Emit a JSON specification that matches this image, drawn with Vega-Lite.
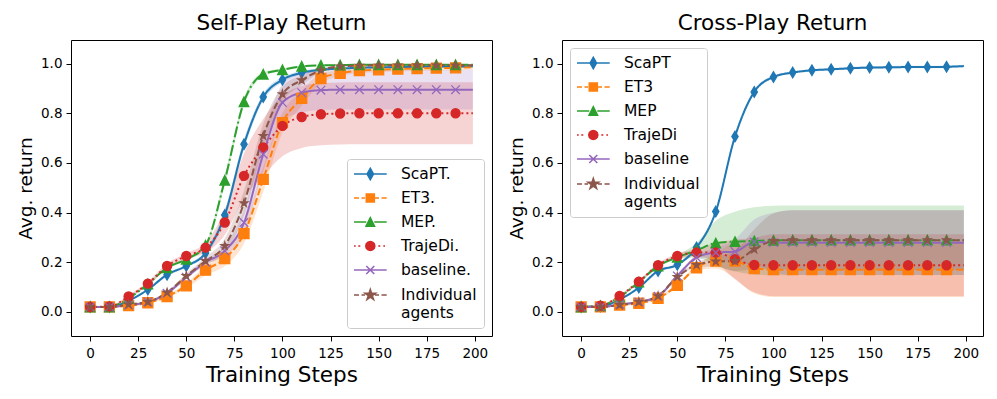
{
  "$schema": "https://vega.github.io/schema/vega-lite/v6.json",
  "background": "white",
  "padding": {"left": 16, "top": 12, "right": 5, "bottom": 5},
  "bounds": "flush",
  "spacing": 70,
  "config": {
    "font": "DejaVu Sans",
    "view": {"stroke": "#000", "strokeWidth": 1},
    "axis": {"domain": false, "grid": false, "ticks": true, "tickColor": "#000", "tickSize": 5, "tickWidth": 1, "labelFontSize": 13.5, "labelColor": "#000", "titleColor": "#000", "titleFontWeight": "normal", "labelFont": "DejaVu Sans", "titleFont": "DejaVu Sans"},
    "axisX": {"titleFontSize": 21.5, "labelPadding": 5, "titlePadding": 5},
    "axisY": {"titleFontSize": 18.5, "labelPadding": 4, "titlePadding": 5},
    "title": {"fontSize": 21.5, "fontWeight": "normal", "font": "DejaVu Sans", "color": "#000", "offset": 6, "anchor": "middle"},
    "legend": {"labelFont": "DejaVu Sans", "labelFontSize": 15.5, "labelColor": "#000", "titleFontSize": 1}
  },
  "resolve": {"scale": {"shape": "independent", "color": "independent", "fill": "independent", "stroke": "independent", "strokeDash": "independent", "size": "independent"}, "legend": {"shape": "independent", "fill": "independent", "stroke": "independent"}},
  "data": {"values": [
    {"panel":"Self","method":"ScaPT","step":0,"value":0.02,"lo":0.017,"hi":0.023},
    {"panel":"Self","method":"ScaPT","step":10,"value":0.02,"lo":0.017,"hi":0.023},
    {"panel":"Self","method":"ScaPT","step":20,"value":0.045,"lo":0.041,"hi":0.049},
    {"panel":"Self","method":"ScaPT","step":30,"value":0.09,"lo":0.085,"hi":0.095},
    {"panel":"Self","method":"ScaPT","step":40,"value":0.15,"lo":0.144,"hi":0.156},
    {"panel":"Self","method":"ScaPT","step":50,"value":0.185,"lo":0.179,"hi":0.191},
    {"panel":"Self","method":"ScaPT","step":60,"value":0.237,"lo":0.227,"hi":0.247},
    {"panel":"Self","method":"ScaPT","step":70,"value":0.39,"lo":0.37,"hi":0.41},
    {"panel":"Self","method":"ScaPT","step":80,"value":0.675,"lo":0.655,"hi":0.695},
    {"panel":"Self","method":"ScaPT","step":90,"value":0.865,"lo":0.85,"hi":0.88},
    {"panel":"Self","method":"ScaPT","step":100,"value":0.935,"lo":0.925,"hi":0.945},
    {"panel":"Self","method":"ScaPT","step":110,"value":0.963,"lo":0.955,"hi":0.971},
    {"panel":"Self","method":"ScaPT","step":120,"value":0.975,"lo":0.969,"hi":0.981},
    {"panel":"Self","method":"ScaPT","step":130,"value":0.98,"lo":0.975,"hi":0.985},
    {"panel":"Self","method":"ScaPT","step":140,"value":0.983,"lo":0.978,"hi":0.988},
    {"panel":"Self","method":"ScaPT","step":150,"value":0.985,"lo":0.98,"hi":0.99},
    {"panel":"Self","method":"ScaPT","step":160,"value":0.986,"lo":0.981,"hi":0.991},
    {"panel":"Self","method":"ScaPT","step":170,"value":0.987,"lo":0.982,"hi":0.992},
    {"panel":"Self","method":"ScaPT","step":180,"value":0.988,"lo":0.983,"hi":0.993},
    {"panel":"Self","method":"ScaPT","step":190,"value":0.988,"lo":0.983,"hi":0.993},
    {"panel":"Self","method":"ScaPT","step":199,"value":0.989,"lo":0.984,"hi":0.994},
    {"panel":"Self","method":"ET3","step":0,"value":0.02,"lo":0.017,"hi":0.023},
    {"panel":"Self","method":"ET3","step":10,"value":0.02,"lo":0.017,"hi":0.023},
    {"panel":"Self","method":"ET3","step":20,"value":0.025,"lo":0.021,"hi":0.029},
    {"panel":"Self","method":"ET3","step":30,"value":0.037,"lo":0.032,"hi":0.042},
    {"panel":"Self","method":"ET3","step":40,"value":0.062,"lo":0.056,"hi":0.068},
    {"panel":"Self","method":"ET3","step":50,"value":0.105,"lo":0.095,"hi":0.115},
    {"panel":"Self","method":"ET3","step":60,"value":0.168,"lo":0.148,"hi":0.188},
    {"panel":"Self","method":"ET3","step":70,"value":0.215,"lo":0.185,"hi":0.245},
    {"panel":"Self","method":"ET3","step":80,"value":0.315,"lo":0.275,"hi":0.355},
    {"panel":"Self","method":"ET3","step":90,"value":0.534,"lo":0.484,"hi":0.584},
    {"panel":"Self","method":"ET3","step":100,"value":0.762,"lo":0.722,"hi":0.802},
    {"panel":"Self","method":"ET3","step":110,"value":0.86,"lo":0.83,"hi":0.89},
    {"panel":"Self","method":"ET3","step":120,"value":0.94,"lo":0.92,"hi":0.96},
    {"panel":"Self","method":"ET3","step":130,"value":0.961,"lo":0.949,"hi":0.973},
    {"panel":"Self","method":"ET3","step":140,"value":0.972,"lo":0.962,"hi":0.982},
    {"panel":"Self","method":"ET3","step":150,"value":0.975,"lo":0.965,"hi":0.985},
    {"panel":"Self","method":"ET3","step":160,"value":0.978,"lo":0.968,"hi":0.988},
    {"panel":"Self","method":"ET3","step":170,"value":0.98,"lo":0.97,"hi":0.99},
    {"panel":"Self","method":"ET3","step":180,"value":0.982,"lo":0.972,"hi":0.992},
    {"panel":"Self","method":"ET3","step":190,"value":0.983,"lo":0.973,"hi":0.993},
    {"panel":"Self","method":"ET3","step":199,"value":0.985,"lo":0.975,"hi":0.995},
    {"panel":"Self","method":"MEP","step":0,"value":0.02,"lo":0.017,"hi":0.023},
    {"panel":"Self","method":"MEP","step":10,"value":0.02,"lo":0.017,"hi":0.023},
    {"panel":"Self","method":"MEP","step":20,"value":0.055,"lo":0.051,"hi":0.059},
    {"panel":"Self","method":"MEP","step":30,"value":0.112,"lo":0.107,"hi":0.117},
    {"panel":"Self","method":"MEP","step":40,"value":0.178,"lo":0.172,"hi":0.184},
    {"panel":"Self","method":"MEP","step":50,"value":0.212,"lo":0.206,"hi":0.218},
    {"panel":"Self","method":"MEP","step":60,"value":0.268,"lo":0.258,"hi":0.278},
    {"panel":"Self","method":"MEP","step":70,"value":0.53,"lo":0.51,"hi":0.55},
    {"panel":"Self","method":"MEP","step":80,"value":0.846,"lo":0.831,"hi":0.861},
    {"panel":"Self","method":"MEP","step":90,"value":0.957,"lo":0.949,"hi":0.965},
    {"panel":"Self","method":"MEP","step":100,"value":0.975,"lo":0.97,"hi":0.98},
    {"panel":"Self","method":"MEP","step":110,"value":0.989,"lo":0.985,"hi":0.993},
    {"panel":"Self","method":"MEP","step":120,"value":0.993,"lo":0.99,"hi":0.996},
    {"panel":"Self","method":"MEP","step":130,"value":0.994,"lo":0.991,"hi":0.997},
    {"panel":"Self","method":"MEP","step":140,"value":0.995,"lo":0.992,"hi":0.998},
    {"panel":"Self","method":"MEP","step":150,"value":0.995,"lo":0.992,"hi":0.998},
    {"panel":"Self","method":"MEP","step":160,"value":0.995,"lo":0.992,"hi":0.998},
    {"panel":"Self","method":"MEP","step":170,"value":0.995,"lo":0.992,"hi":0.998},
    {"panel":"Self","method":"MEP","step":180,"value":0.995,"lo":0.992,"hi":0.998},
    {"panel":"Self","method":"MEP","step":190,"value":0.995,"lo":0.992,"hi":0.998},
    {"panel":"Self","method":"MEP","step":199,"value":0.995,"lo":0.992,"hi":0.998},
    {"panel":"Self","method":"TrajeDi","step":0,"value":0.02,"lo":0.017,"hi":0.023},
    {"panel":"Self","method":"TrajeDi","step":10,"value":0.022,"lo":0.019,"hi":0.025},
    {"panel":"Self","method":"TrajeDi","step":20,"value":0.062,"lo":0.057,"hi":0.067},
    {"panel":"Self","method":"TrajeDi","step":30,"value":0.114,"lo":0.106,"hi":0.122},
    {"panel":"Self","method":"TrajeDi","step":40,"value":0.185,"lo":0.175,"hi":0.195},
    {"panel":"Self","method":"TrajeDi","step":50,"value":0.225,"lo":0.213,"hi":0.237},
    {"panel":"Self","method":"TrajeDi","step":60,"value":0.259,"lo":0.239,"hi":0.279},
    {"panel":"Self","method":"TrajeDi","step":70,"value":0.36,"lo":0.31,"hi":0.41},
    {"panel":"Self","method":"TrajeDi","step":80,"value":0.548,"lo":0.458,"hi":0.638},
    {"panel":"Self","method":"TrajeDi","step":90,"value":0.662,"lo":0.547,"hi":0.777},
    {"panel":"Self","method":"TrajeDi","step":100,"value":0.749,"lo":0.627,"hi":0.871},
    {"panel":"Self","method":"TrajeDi","step":110,"value":0.785,"lo":0.66,"hi":0.91},
    {"panel":"Self","method":"TrajeDi","step":120,"value":0.796,"lo":0.671,"hi":0.921},
    {"panel":"Self","method":"TrajeDi","step":130,"value":0.799,"lo":0.674,"hi":0.924},
    {"panel":"Self","method":"TrajeDi","step":140,"value":0.8,"lo":0.675,"hi":0.925},
    {"panel":"Self","method":"TrajeDi","step":150,"value":0.8,"lo":0.675,"hi":0.925},
    {"panel":"Self","method":"TrajeDi","step":160,"value":0.8,"lo":0.675,"hi":0.925},
    {"panel":"Self","method":"TrajeDi","step":170,"value":0.8,"lo":0.675,"hi":0.925},
    {"panel":"Self","method":"TrajeDi","step":180,"value":0.8,"lo":0.675,"hi":0.925},
    {"panel":"Self","method":"TrajeDi","step":190,"value":0.8,"lo":0.675,"hi":0.925},
    {"panel":"Self","method":"TrajeDi","step":199,"value":0.8,"lo":0.675,"hi":0.925},
    {"panel":"Self","method":"baseline","step":0,"value":0.02,"lo":0.017,"hi":0.023},
    {"panel":"Self","method":"baseline","step":10,"value":0.02,"lo":0.017,"hi":0.023},
    {"panel":"Self","method":"baseline","step":20,"value":0.028,"lo":0.024,"hi":0.032},
    {"panel":"Self","method":"baseline","step":30,"value":0.04,"lo":0.035,"hi":0.045},
    {"panel":"Self","method":"baseline","step":40,"value":0.075,"lo":0.069,"hi":0.081},
    {"panel":"Self","method":"baseline","step":50,"value":0.14,"lo":0.132,"hi":0.148},
    {"panel":"Self","method":"baseline","step":60,"value":0.2,"lo":0.19,"hi":0.21},
    {"panel":"Self","method":"baseline","step":70,"value":0.246,"lo":0.226,"hi":0.266},
    {"panel":"Self","method":"baseline","step":80,"value":0.36,"lo":0.31,"hi":0.41},
    {"panel":"Self","method":"baseline","step":90,"value":0.635,"lo":0.565,"hi":0.705},
    {"panel":"Self","method":"baseline","step":100,"value":0.843,"lo":0.768,"hi":0.918},
    {"panel":"Self","method":"baseline","step":110,"value":0.883,"lo":0.803,"hi":0.963},
    {"panel":"Self","method":"baseline","step":120,"value":0.893,"lo":0.813,"hi":0.973},
    {"panel":"Self","method":"baseline","step":130,"value":0.895,"lo":0.815,"hi":0.975},
    {"panel":"Self","method":"baseline","step":140,"value":0.895,"lo":0.815,"hi":0.975},
    {"panel":"Self","method":"baseline","step":150,"value":0.895,"lo":0.815,"hi":0.975},
    {"panel":"Self","method":"baseline","step":160,"value":0.895,"lo":0.815,"hi":0.975},
    {"panel":"Self","method":"baseline","step":170,"value":0.895,"lo":0.815,"hi":0.975},
    {"panel":"Self","method":"baseline","step":180,"value":0.895,"lo":0.815,"hi":0.975},
    {"panel":"Self","method":"baseline","step":190,"value":0.895,"lo":0.815,"hi":0.975},
    {"panel":"Self","method":"baseline","step":199,"value":0.895,"lo":0.815,"hi":0.975},
    {"panel":"Self","method":"Individual agents","step":0,"value":0.02,"lo":0.017,"hi":0.023},
    {"panel":"Self","method":"Individual agents","step":10,"value":0.02,"lo":0.017,"hi":0.023},
    {"panel":"Self","method":"Individual agents","step":20,"value":0.03,"lo":0.026,"hi":0.034},
    {"panel":"Self","method":"Individual agents","step":30,"value":0.04,"lo":0.035,"hi":0.045},
    {"panel":"Self","method":"Individual agents","step":40,"value":0.078,"lo":0.072,"hi":0.084},
    {"panel":"Self","method":"Individual agents","step":50,"value":0.145,"lo":0.135,"hi":0.155},
    {"panel":"Self","method":"Individual agents","step":60,"value":0.205,"lo":0.19,"hi":0.22},
    {"panel":"Self","method":"Individual agents","step":70,"value":0.266,"lo":0.236,"hi":0.296},
    {"panel":"Self","method":"Individual agents","step":80,"value":0.438,"lo":0.388,"hi":0.488},
    {"panel":"Self","method":"Individual agents","step":90,"value":0.709,"lo":0.659,"hi":0.759},
    {"panel":"Self","method":"Individual agents","step":100,"value":0.877,"lo":0.847,"hi":0.907},
    {"panel":"Self","method":"Individual agents","step":110,"value":0.933,"lo":0.913,"hi":0.953},
    {"panel":"Self","method":"Individual agents","step":120,"value":0.973,"lo":0.965,"hi":0.981},
    {"panel":"Self","method":"Individual agents","step":130,"value":0.989,"lo":0.984,"hi":0.994},
    {"panel":"Self","method":"Individual agents","step":140,"value":0.992,"lo":0.987,"hi":0.997},
    {"panel":"Self","method":"Individual agents","step":150,"value":0.993,"lo":0.988,"hi":0.998},
    {"panel":"Self","method":"Individual agents","step":160,"value":0.993,"lo":0.988,"hi":0.998},
    {"panel":"Self","method":"Individual agents","step":170,"value":0.993,"lo":0.988,"hi":0.998},
    {"panel":"Self","method":"Individual agents","step":180,"value":0.993,"lo":0.988,"hi":0.998},
    {"panel":"Self","method":"Individual agents","step":190,"value":0.993,"lo":0.988,"hi":0.998},
    {"panel":"Self","method":"Individual agents","step":199,"value":0.993,"lo":0.988,"hi":0.998},
    {"panel":"Cross","method":"ScaPT","step":0,"value":0.02,"lo":0.017,"hi":0.023},
    {"panel":"Cross","method":"ScaPT","step":10,"value":0.022,"lo":0.019,"hi":0.025},
    {"panel":"Cross","method":"ScaPT","step":20,"value":0.05,"lo":0.046,"hi":0.054},
    {"panel":"Cross","method":"ScaPT","step":30,"value":0.098,"lo":0.093,"hi":0.103},
    {"panel":"Cross","method":"ScaPT","step":40,"value":0.165,"lo":0.159,"hi":0.171},
    {"panel":"Cross","method":"ScaPT","step":50,"value":0.19,"lo":0.184,"hi":0.196},
    {"panel":"Cross","method":"ScaPT","step":60,"value":0.259,"lo":0.251,"hi":0.267},
    {"panel":"Cross","method":"ScaPT","step":70,"value":0.404,"lo":0.394,"hi":0.414},
    {"panel":"Cross","method":"ScaPT","step":80,"value":0.706,"lo":0.696,"hi":0.716},
    {"panel":"Cross","method":"ScaPT","step":90,"value":0.886,"lo":0.878,"hi":0.894},
    {"panel":"Cross","method":"ScaPT","step":100,"value":0.946,"lo":0.94,"hi":0.952},
    {"panel":"Cross","method":"ScaPT","step":110,"value":0.964,"lo":0.959,"hi":0.969},
    {"panel":"Cross","method":"ScaPT","step":120,"value":0.973,"lo":0.968,"hi":0.978},
    {"panel":"Cross","method":"ScaPT","step":130,"value":0.977,"lo":0.972,"hi":0.982},
    {"panel":"Cross","method":"ScaPT","step":140,"value":0.981,"lo":0.976,"hi":0.986},
    {"panel":"Cross","method":"ScaPT","step":150,"value":0.984,"lo":0.979,"hi":0.989},
    {"panel":"Cross","method":"ScaPT","step":160,"value":0.985,"lo":0.98,"hi":0.99},
    {"panel":"Cross","method":"ScaPT","step":170,"value":0.986,"lo":0.981,"hi":0.991},
    {"panel":"Cross","method":"ScaPT","step":180,"value":0.986,"lo":0.981,"hi":0.991},
    {"panel":"Cross","method":"ScaPT","step":190,"value":0.987,"lo":0.982,"hi":0.992},
    {"panel":"Cross","method":"ScaPT","step":199,"value":0.99,"lo":0.985,"hi":0.995},
    {"panel":"Cross","method":"ET3","step":0,"value":0.02,"lo":0.017,"hi":0.023},
    {"panel":"Cross","method":"ET3","step":10,"value":0.02,"lo":0.017,"hi":0.023},
    {"panel":"Cross","method":"ET3","step":20,"value":0.028,"lo":0.024,"hi":0.032},
    {"panel":"Cross","method":"ET3","step":30,"value":0.035,"lo":0.03,"hi":0.04},
    {"panel":"Cross","method":"ET3","step":40,"value":0.055,"lo":0.049,"hi":0.061},
    {"panel":"Cross","method":"ET3","step":50,"value":0.107,"lo":0.099,"hi":0.115},
    {"panel":"Cross","method":"ET3","step":60,"value":0.178,"lo":0.168,"hi":0.188},
    {"panel":"Cross","method":"ET3","step":70,"value":0.205,"lo":0.175,"hi":0.235},
    {"panel":"Cross","method":"ET3","step":80,"value":0.205,"lo":0.135,"hi":0.275},
    {"panel":"Cross","method":"ET3","step":90,"value":0.175,"lo":0.075,"hi":0.275},
    {"panel":"Cross","method":"ET3","step":100,"value":0.17,"lo":0.06,"hi":0.28},
    {"panel":"Cross","method":"ET3","step":110,"value":0.17,"lo":0.06,"hi":0.28},
    {"panel":"Cross","method":"ET3","step":120,"value":0.17,"lo":0.06,"hi":0.28},
    {"panel":"Cross","method":"ET3","step":130,"value":0.17,"lo":0.06,"hi":0.28},
    {"panel":"Cross","method":"ET3","step":140,"value":0.17,"lo":0.06,"hi":0.28},
    {"panel":"Cross","method":"ET3","step":150,"value":0.17,"lo":0.06,"hi":0.28},
    {"panel":"Cross","method":"ET3","step":160,"value":0.17,"lo":0.06,"hi":0.28},
    {"panel":"Cross","method":"ET3","step":170,"value":0.17,"lo":0.06,"hi":0.28},
    {"panel":"Cross","method":"ET3","step":180,"value":0.17,"lo":0.06,"hi":0.28},
    {"panel":"Cross","method":"ET3","step":190,"value":0.17,"lo":0.06,"hi":0.28},
    {"panel":"Cross","method":"ET3","step":199,"value":0.17,"lo":0.06,"hi":0.28},
    {"panel":"Cross","method":"MEP","step":0,"value":0.02,"lo":0.017,"hi":0.023},
    {"panel":"Cross","method":"MEP","step":10,"value":0.025,"lo":0.022,"hi":0.028},
    {"panel":"Cross","method":"MEP","step":20,"value":0.06,"lo":0.056,"hi":0.064},
    {"panel":"Cross","method":"MEP","step":30,"value":0.12,"lo":0.115,"hi":0.125},
    {"panel":"Cross","method":"MEP","step":40,"value":0.185,"lo":0.179,"hi":0.191},
    {"panel":"Cross","method":"MEP","step":50,"value":0.22,"lo":0.21,"hi":0.23},
    {"panel":"Cross","method":"MEP","step":60,"value":0.248,"lo":0.218,"hi":0.278},
    {"panel":"Cross","method":"MEP","step":70,"value":0.277,"lo":0.187,"hi":0.367},
    {"panel":"Cross","method":"MEP","step":80,"value":0.283,"lo":0.163,"hi":0.403},
    {"panel":"Cross","method":"MEP","step":90,"value":0.286,"lo":0.151,"hi":0.421},
    {"panel":"Cross","method":"MEP","step":100,"value":0.288,"lo":0.148,"hi":0.428},
    {"panel":"Cross","method":"MEP","step":110,"value":0.289,"lo":0.149,"hi":0.429},
    {"panel":"Cross","method":"MEP","step":120,"value":0.289,"lo":0.149,"hi":0.429},
    {"panel":"Cross","method":"MEP","step":130,"value":0.289,"lo":0.149,"hi":0.429},
    {"panel":"Cross","method":"MEP","step":140,"value":0.289,"lo":0.149,"hi":0.429},
    {"panel":"Cross","method":"MEP","step":150,"value":0.289,"lo":0.149,"hi":0.429},
    {"panel":"Cross","method":"MEP","step":160,"value":0.289,"lo":0.149,"hi":0.429},
    {"panel":"Cross","method":"MEP","step":170,"value":0.289,"lo":0.149,"hi":0.429},
    {"panel":"Cross","method":"MEP","step":180,"value":0.289,"lo":0.149,"hi":0.429},
    {"panel":"Cross","method":"MEP","step":190,"value":0.289,"lo":0.149,"hi":0.429},
    {"panel":"Cross","method":"MEP","step":199,"value":0.289,"lo":0.149,"hi":0.429},
    {"panel":"Cross","method":"TrajeDi","step":0,"value":0.02,"lo":0.017,"hi":0.023},
    {"panel":"Cross","method":"TrajeDi","step":10,"value":0.025,"lo":0.022,"hi":0.028},
    {"panel":"Cross","method":"TrajeDi","step":20,"value":0.064,"lo":0.059,"hi":0.069},
    {"panel":"Cross","method":"TrajeDi","step":30,"value":0.122,"lo":0.116,"hi":0.128},
    {"panel":"Cross","method":"TrajeDi","step":40,"value":0.188,"lo":0.18,"hi":0.196},
    {"panel":"Cross","method":"TrajeDi","step":50,"value":0.225,"lo":0.215,"hi":0.235},
    {"panel":"Cross","method":"TrajeDi","step":60,"value":0.239,"lo":0.224,"hi":0.254},
    {"panel":"Cross","method":"TrajeDi","step":70,"value":0.239,"lo":0.199,"hi":0.279},
    {"panel":"Cross","method":"TrajeDi","step":80,"value":0.212,"lo":0.132,"hi":0.292},
    {"panel":"Cross","method":"TrajeDi","step":90,"value":0.189,"lo":0.079,"hi":0.299},
    {"panel":"Cross","method":"TrajeDi","step":100,"value":0.188,"lo":0.063,"hi":0.313},
    {"panel":"Cross","method":"TrajeDi","step":110,"value":0.188,"lo":0.063,"hi":0.313},
    {"panel":"Cross","method":"TrajeDi","step":120,"value":0.188,"lo":0.063,"hi":0.313},
    {"panel":"Cross","method":"TrajeDi","step":130,"value":0.188,"lo":0.063,"hi":0.313},
    {"panel":"Cross","method":"TrajeDi","step":140,"value":0.188,"lo":0.063,"hi":0.313},
    {"panel":"Cross","method":"TrajeDi","step":150,"value":0.188,"lo":0.063,"hi":0.313},
    {"panel":"Cross","method":"TrajeDi","step":160,"value":0.188,"lo":0.063,"hi":0.313},
    {"panel":"Cross","method":"TrajeDi","step":170,"value":0.188,"lo":0.063,"hi":0.313},
    {"panel":"Cross","method":"TrajeDi","step":180,"value":0.188,"lo":0.063,"hi":0.313},
    {"panel":"Cross","method":"TrajeDi","step":190,"value":0.188,"lo":0.063,"hi":0.313},
    {"panel":"Cross","method":"TrajeDi","step":199,"value":0.188,"lo":0.063,"hi":0.313},
    {"panel":"Cross","method":"baseline","step":0,"value":0.02,"lo":0.017,"hi":0.023},
    {"panel":"Cross","method":"baseline","step":10,"value":0.02,"lo":0.017,"hi":0.023},
    {"panel":"Cross","method":"baseline","step":20,"value":0.03,"lo":0.026,"hi":0.034},
    {"panel":"Cross","method":"baseline","step":30,"value":0.04,"lo":0.035,"hi":0.045},
    {"panel":"Cross","method":"baseline","step":40,"value":0.063,"lo":0.057,"hi":0.069},
    {"panel":"Cross","method":"baseline","step":50,"value":0.145,"lo":0.137,"hi":0.153},
    {"panel":"Cross","method":"baseline","step":60,"value":0.219,"lo":0.209,"hi":0.229},
    {"panel":"Cross","method":"baseline","step":70,"value":0.239,"lo":0.219,"hi":0.259},
    {"panel":"Cross","method":"baseline","step":80,"value":0.243,"lo":0.193,"hi":0.293},
    {"panel":"Cross","method":"baseline","step":90,"value":0.282,"lo":0.192,"hi":0.372},
    {"panel":"Cross","method":"baseline","step":100,"value":0.279,"lo":0.159,"hi":0.399},
    {"panel":"Cross","method":"baseline","step":110,"value":0.279,"lo":0.149,"hi":0.409},
    {"panel":"Cross","method":"baseline","step":120,"value":0.279,"lo":0.149,"hi":0.409},
    {"panel":"Cross","method":"baseline","step":130,"value":0.279,"lo":0.149,"hi":0.409},
    {"panel":"Cross","method":"baseline","step":140,"value":0.279,"lo":0.149,"hi":0.409},
    {"panel":"Cross","method":"baseline","step":150,"value":0.279,"lo":0.149,"hi":0.409},
    {"panel":"Cross","method":"baseline","step":160,"value":0.279,"lo":0.149,"hi":0.409},
    {"panel":"Cross","method":"baseline","step":170,"value":0.279,"lo":0.149,"hi":0.409},
    {"panel":"Cross","method":"baseline","step":180,"value":0.279,"lo":0.149,"hi":0.409},
    {"panel":"Cross","method":"baseline","step":190,"value":0.279,"lo":0.149,"hi":0.409},
    {"panel":"Cross","method":"baseline","step":199,"value":0.279,"lo":0.149,"hi":0.409},
    {"panel":"Cross","method":"Individual agents","step":0,"value":0.02,"lo":0.017,"hi":0.023},
    {"panel":"Cross","method":"Individual agents","step":10,"value":0.02,"lo":0.017,"hi":0.023},
    {"panel":"Cross","method":"Individual agents","step":20,"value":0.028,"lo":0.024,"hi":0.032},
    {"panel":"Cross","method":"Individual agents","step":30,"value":0.04,"lo":0.035,"hi":0.045},
    {"panel":"Cross","method":"Individual agents","step":40,"value":0.064,"lo":0.058,"hi":0.07},
    {"panel":"Cross","method":"Individual agents","step":50,"value":0.141,"lo":0.133,"hi":0.149},
    {"panel":"Cross","method":"Individual agents","step":60,"value":0.189,"lo":0.179,"hi":0.199},
    {"panel":"Cross","method":"Individual agents","step":70,"value":0.203,"lo":0.183,"hi":0.223},
    {"panel":"Cross","method":"Individual agents","step":80,"value":0.205,"lo":0.165,"hi":0.245},
    {"panel":"Cross","method":"Individual agents","step":90,"value":0.252,"lo":0.172,"hi":0.332},
    {"panel":"Cross","method":"Individual agents","step":100,"value":0.286,"lo":0.176,"hi":0.396},
    {"panel":"Cross","method":"Individual agents","step":110,"value":0.289,"lo":0.169,"hi":0.409},
    {"panel":"Cross","method":"Individual agents","step":120,"value":0.289,"lo":0.169,"hi":0.409},
    {"panel":"Cross","method":"Individual agents","step":130,"value":0.289,"lo":0.169,"hi":0.409},
    {"panel":"Cross","method":"Individual agents","step":140,"value":0.289,"lo":0.169,"hi":0.409},
    {"panel":"Cross","method":"Individual agents","step":150,"value":0.289,"lo":0.169,"hi":0.409},
    {"panel":"Cross","method":"Individual agents","step":160,"value":0.289,"lo":0.169,"hi":0.409},
    {"panel":"Cross","method":"Individual agents","step":170,"value":0.289,"lo":0.169,"hi":0.409},
    {"panel":"Cross","method":"Individual agents","step":180,"value":0.289,"lo":0.169,"hi":0.409},
    {"panel":"Cross","method":"Individual agents","step":190,"value":0.289,"lo":0.169,"hi":0.409},
    {"panel":"Cross","method":"Individual agents","step":199,"value":0.289,"lo":0.169,"hi":0.409}
  ]},
  "hconcat": [
    {
      "width": 421, "height": 296,
      "title": {"text": "Self-Play Return"},
      "transform": [{"filter": "datum.panel == 'Self'"}],
      "encoding": {
        "x": {"field": "step", "type": "quantitative", "scale": {"domain": [-9.95, 208.95], "nice": false, "zero": false}, "axis": {"values": [0,25,50,75,100,125,150,175,200], "format": "d", "title": "Training Steps"}}
      },
      "layer": [
        {
          "mark": {"type": "area", "opacity": 0.2, "interpolate": "monotone"},
          "encoding": {
            "y": {"field": "lo", "type": "quantitative", "scale": {"domain": [-0.097, 1.095], "nice": false, "zero": false}, "axis": {"values": [0,0.2,0.4,0.6,0.8,1.0], "format": ".1f", "title": "Avg. return"}},
            "y2": {"field": "hi"},
            "color": {"field": "method", "type": "nominal", "scale": {"domain": ["ScaPT","ET3","MEP","TrajeDi","baseline","Individual agents"], "range": ["#1f77b4","#ff7f0e","#2ca02c","#d62728","#9467bd","#8c564b"]}, "legend": null}
          }
        },
        {
          "mark": {"type": "line", "strokeWidth": 2, "interpolate": "monotone"},
          "encoding": {
            "y": {"field": "value", "type": "quantitative", "scale": {"domain": [-0.097, 1.095], "nice": false, "zero": false}, "axis": {"values": [0,0.2,0.4,0.6,0.8,1.0], "format": ".1f", "title": "Avg. return"}},
            "color": {"field": "method", "type": "nominal", "scale": {"domain": ["ScaPT","ET3","MEP","TrajeDi","baseline","Individual agents"], "range": ["#1f77b4","#ff7f0e","#2ca02c","#d62728","#9467bd","#8c564b"]}, "legend": null},
            "strokeDash": {"field": "method", "type": "nominal", "scale": {"domain": ["ScaPT","ET3","MEP","TrajeDi","baseline","Individual agents"], "range": [[1,0],[7,3],[11,3,2,3],[2,3],[1,0],[7,3]]}, "legend": null}
          }
        },
        {
          "transform": [{"filter": "datum.step % 10 == 0"}],
          "mark": {"type": "point", "filled": true, "opacity": 1, "strokeWidth": 1.3},
          "encoding": {
            "y": {"field": "value", "type": "quantitative", "scale": {"domain": [-0.097, 1.095], "nice": false, "zero": false}, "axis": {"values": [0,0.2,0.4,0.6,0.8,1.0], "format": ".1f", "title": "Avg. return"}},
            "color": {"field": "method", "type": "nominal", "scale": {"domain": ["ScaPT","ET3","MEP","TrajeDi","baseline","Individual agents"], "range": ["#1f77b4","#ff7f0e","#2ca02c","#d62728","#9467bd","#8c564b"]}, "legend": null},
            "stroke": {"field": "method", "type": "nominal", "scale": {"domain": ["ScaPT","ET3","MEP","TrajeDi","baseline","Individual agents"], "range": ["#1f77b4","#ff7f0e","#2ca02c","#d62728","#9467bd","#8c564b"]}, "legend": null},
            "shape": {"field": "method", "type": "nominal", "scale": {"domain": ["ScaPT","ET3","MEP","TrajeDi","baseline","Individual agents"], "range": ["M0,-1L0.6,0L0,1L-0.6,0Z","square","M0,-1L1,1L-1,1Z","circle","M-1,-1L1,1M-1,1L1,-1","M0,-1L0.2245,-0.309L0.951,-0.309L0.363,0.118L0.588,0.809L0,0.382L-0.588,0.809L-0.363,0.118L-0.951,-0.309L-0.2245,-0.309Z"]}, "legend": null},
            "size": {"field": "method", "type": "nominal", "scale": {"domain": ["ScaPT","ET3","MEP","TrajeDi","baseline","Individual agents"], "range": [110,64,64,81,45,120]}, "legend": null}
          }
        },
        {
          "transform": [{"filter": "datum.step < 0"}],
          "mark": {"type": "point", "filled": true, "strokeWidth": 1.6},
          "encoding": {
            "y": {"field": "value", "type": "quantitative", "scale": {"domain": [-0.097, 1.095], "nice": false, "zero": false}, "axis": {"values": [0,0.2,0.4,0.6,0.8,1.0], "format": ".1f", "title": "Avg. return"}},
            "fill": {"field": "method", "type": "nominal", "scale": {"domain": ["ScaPT","ET3","MEP","TrajeDi","baseline","Individual agents"], "range": ["#1f77b4","#ff7f0e","#2ca02c","#d62728","#9467bd","#8c564b"]},
              "legend": {"title": null, "orient": "bottom-right", "offset": 8, "symbolSize": 196, "symbolStrokeWidth": 1.6, "symbolOpacity": 1, "labelFontSize": 15.5, "labelOffset": 31, "labelLimit": 300, "rowPadding": 7, "padding": 7, "fillColor": "rgba(255,255,255,0.85)", "strokeColor": "#cccccc", "cornerRadius": 3, "labelExpr": "datum.label == 'Individual agents' ? ['Individual', 'agents'] : datum.label + '.'", "encode": {"labels": {"lineHeight": {"value": 16}}}}},
            "stroke": {"field": "method", "type": "nominal", "scale": {"domain": ["ScaPT","ET3","MEP","TrajeDi","baseline","Individual agents"], "range": ["#1f77b4","#ff7f0e","#2ca02c","#d62728","#9467bd","#8c564b"]},
              "legend": {"title": null, "orient": "bottom-right", "offset": 8, "symbolSize": 196, "symbolStrokeWidth": 1.6, "symbolOpacity": 1, "labelFontSize": 15.5, "labelOffset": 31, "labelLimit": 300, "rowPadding": 7, "padding": 7, "fillColor": "rgba(255,255,255,0.85)", "strokeColor": "#cccccc", "cornerRadius": 3, "labelExpr": "datum.label == 'Individual agents' ? ['Individual', 'agents'] : datum.label + '.'", "encode": {"labels": {"lineHeight": {"value": 16}}}}},
            "shape": {"field": "method", "type": "nominal",
              "scale": {"domain": ["ScaPT","ET3","MEP","TrajeDi","baseline","Individual agents"], "range": [
                "M-1.143,0H3.529M1.186,-0.8L1.636,0L1.186,0.8L0.736,0Z",
                "M-1.143,0H-0.429M-0.071,0H0.429M1.857,0H2.429M2.786,0H3.529M0.615,-0.571H1.757V0.571H0.615Z",
                "M-1.143,0H0.614M1.757,0H3.529M1.186,-0.6L1.786,0.6L0.586,0.6Z",
                "M-1.143,0H-0.9M-0.529,0H-0.243M2.329,0H2.614M3.043,0H3.286M1.829,0L1.743,0.322L1.508,0.557L1.186,0.643L0.864,0.557L0.629,0.322L0.543,0L0.629,-0.322L0.864,-0.557L1.186,-0.643L1.508,-0.557L1.743,-0.322Z",
                "M-1.143,0H3.529M0.615,-0.571L1.757,0.571M0.615,0.571L1.757,-0.571",
                "M-1.143,0H-0.429M-0.071,0H0.429M1.857,0H2.429M2.786,0H3.529M1.186,-0.786L1.362,-0.243L1.933,-0.243L1.471,0.093L1.648,0.636L1.186,0.3L0.724,0.636L0.901,0.093L0.439,-0.243L1.01,-0.243Z"
              ]},
              "legend": {"title": null, "orient": "bottom-right", "offset": 8, "symbolSize": 196, "symbolStrokeWidth": 1.6, "symbolOpacity": 1, "labelFontSize": 15.5, "labelOffset": 31, "labelLimit": 300, "rowPadding": 7, "padding": 7, "fillColor": "rgba(255,255,255,0.85)", "strokeColor": "#cccccc", "cornerRadius": 3, "labelExpr": "datum.label == 'Individual agents' ? ['Individual', 'agents'] : datum.label + '.'", "encode": {"labels": {"lineHeight": {"value": 16}}}}
            }
          }
        }
      ],
      "resolve": {"scale": {"shape": "independent", "stroke": "independent", "fill": "independent"}, "legend": {"shape": "independent", "stroke": "independent", "fill": "independent"}}
    },
    {
      "width": 421, "height": 296,
      "title": {"text": "Cross-Play Return"},
      "transform": [{"filter": "datum.panel == 'Cross'"}],
      "encoding": {
        "x": {"field": "step", "type": "quantitative", "scale": {"domain": [-9.95, 208.95], "nice": false, "zero": false}, "axis": {"values": [0,25,50,75,100,125,150,175,200], "format": "d", "title": "Training Steps"}}
      },
      "layer": [
        {
          "mark": {"type": "area", "opacity": 0.2, "interpolate": "monotone"},
          "encoding": {
            "y": {"field": "lo", "type": "quantitative", "scale": {"domain": [-0.097, 1.095], "nice": false, "zero": false}, "axis": {"values": [0,0.2,0.4,0.6,0.8,1.0], "format": ".1f", "title": "Avg. return"}},
            "y2": {"field": "hi"},
            "color": {"field": "method", "type": "nominal", "scale": {"domain": ["ScaPT","ET3","MEP","TrajeDi","baseline","Individual agents"], "range": ["#1f77b4","#ff7f0e","#2ca02c","#d62728","#9467bd","#8c564b"]}, "legend": null}
          }
        },
        {
          "mark": {"type": "line", "strokeWidth": 2, "interpolate": "monotone"},
          "encoding": {
            "y": {"field": "value", "type": "quantitative", "scale": {"domain": [-0.097, 1.095], "nice": false, "zero": false}, "axis": {"values": [0,0.2,0.4,0.6,0.8,1.0], "format": ".1f", "title": "Avg. return"}},
            "color": {"field": "method", "type": "nominal", "scale": {"domain": ["ScaPT","ET3","MEP","TrajeDi","baseline","Individual agents"], "range": ["#1f77b4","#ff7f0e","#2ca02c","#d62728","#9467bd","#8c564b"]}, "legend": null},
            "strokeDash": {"field": "method", "type": "nominal", "scale": {"domain": ["ScaPT","ET3","MEP","TrajeDi","baseline","Individual agents"], "range": [[1,0],[7,3],[11,3,2,3],[2,3],[1,0],[7,3]]}, "legend": null}
          }
        },
        {
          "transform": [{"filter": "datum.step % 10 == 0"}],
          "mark": {"type": "point", "filled": true, "opacity": 1, "strokeWidth": 1.3},
          "encoding": {
            "y": {"field": "value", "type": "quantitative", "scale": {"domain": [-0.097, 1.095], "nice": false, "zero": false}, "axis": {"values": [0,0.2,0.4,0.6,0.8,1.0], "format": ".1f", "title": "Avg. return"}},
            "color": {"field": "method", "type": "nominal", "scale": {"domain": ["ScaPT","ET3","MEP","TrajeDi","baseline","Individual agents"], "range": ["#1f77b4","#ff7f0e","#2ca02c","#d62728","#9467bd","#8c564b"]}, "legend": null},
            "stroke": {"field": "method", "type": "nominal", "scale": {"domain": ["ScaPT","ET3","MEP","TrajeDi","baseline","Individual agents"], "range": ["#1f77b4","#ff7f0e","#2ca02c","#d62728","#9467bd","#8c564b"]}, "legend": null},
            "shape": {"field": "method", "type": "nominal", "scale": {"domain": ["ScaPT","ET3","MEP","TrajeDi","baseline","Individual agents"], "range": ["M0,-1L0.6,0L0,1L-0.6,0Z","square","M0,-1L1,1L-1,1Z","circle","M-1,-1L1,1M-1,1L1,-1","M0,-1L0.2245,-0.309L0.951,-0.309L0.363,0.118L0.588,0.809L0,0.382L-0.588,0.809L-0.363,0.118L-0.951,-0.309L-0.2245,-0.309Z"]}, "legend": null},
            "size": {"field": "method", "type": "nominal", "scale": {"domain": ["ScaPT","ET3","MEP","TrajeDi","baseline","Individual agents"], "range": [110,64,64,81,45,120]}, "legend": null}
          }
        },
        {
          "transform": [{"filter": "datum.step < 0"}],
          "mark": {"type": "point", "filled": true, "strokeWidth": 1.6},
          "encoding": {
            "y": {"field": "value", "type": "quantitative", "scale": {"domain": [-0.097, 1.095], "nice": false, "zero": false}, "axis": {"values": [0,0.2,0.4,0.6,0.8,1.0], "format": ".1f", "title": "Avg. return"}},
            "fill": {"field": "method", "type": "nominal", "scale": {"domain": ["ScaPT","ET3","MEP","TrajeDi","baseline","Individual agents"], "range": ["#1f77b4","#ff7f0e","#2ca02c","#d62728","#9467bd","#8c564b"]},
              "legend": {"title": null, "orient": "top-left", "offset": 8, "symbolSize": 196, "symbolStrokeWidth": 1.6, "symbolOpacity": 1, "labelFontSize": 15.5, "labelOffset": 31, "labelLimit": 300, "rowPadding": 7, "padding": 7, "fillColor": "rgba(255,255,255,0.85)", "strokeColor": "#cccccc", "cornerRadius": 3, "labelExpr": "datum.label == 'Individual agents' ? ['Individual', 'agents'] : datum.label", "encode": {"labels": {"lineHeight": {"value": 16}}}}},
            "stroke": {"field": "method", "type": "nominal", "scale": {"domain": ["ScaPT","ET3","MEP","TrajeDi","baseline","Individual agents"], "range": ["#1f77b4","#ff7f0e","#2ca02c","#d62728","#9467bd","#8c564b"]},
              "legend": {"title": null, "orient": "top-left", "offset": 8, "symbolSize": 196, "symbolStrokeWidth": 1.6, "symbolOpacity": 1, "labelFontSize": 15.5, "labelOffset": 31, "labelLimit": 300, "rowPadding": 7, "padding": 7, "fillColor": "rgba(255,255,255,0.85)", "strokeColor": "#cccccc", "cornerRadius": 3, "labelExpr": "datum.label == 'Individual agents' ? ['Individual', 'agents'] : datum.label", "encode": {"labels": {"lineHeight": {"value": 16}}}}},
            "shape": {"field": "method", "type": "nominal",
              "scale": {"domain": ["ScaPT","ET3","MEP","TrajeDi","baseline","Individual agents"], "range": [
                "M-1.143,0H3.529M1.186,-0.8L1.636,0L1.186,0.8L0.736,0Z",
                "M-1.143,0H-0.429M-0.071,0H0.429M1.857,0H2.429M2.786,0H3.529M0.615,-0.571H1.757V0.571H0.615Z",
                "M-1.143,0H0.614M1.757,0H3.529M1.186,-0.6L1.786,0.6L0.586,0.6Z",
                "M-1.143,0H-0.9M-0.529,0H-0.243M2.329,0H2.614M3.043,0H3.286M1.829,0L1.743,0.322L1.508,0.557L1.186,0.643L0.864,0.557L0.629,0.322L0.543,0L0.629,-0.322L0.864,-0.557L1.186,-0.643L1.508,-0.557L1.743,-0.322Z",
                "M-1.143,0H3.529M0.615,-0.571L1.757,0.571M0.615,0.571L1.757,-0.571",
                "M-1.143,0H-0.429M-0.071,0H0.429M1.857,0H2.429M2.786,0H3.529M1.186,-0.786L1.362,-0.243L1.933,-0.243L1.471,0.093L1.648,0.636L1.186,0.3L0.724,0.636L0.901,0.093L0.439,-0.243L1.01,-0.243Z"
              ]},
              "legend": {"title": null, "orient": "top-left", "offset": 8, "symbolSize": 196, "symbolStrokeWidth": 1.6, "symbolOpacity": 1, "labelFontSize": 15.5, "labelOffset": 31, "labelLimit": 300, "rowPadding": 7, "padding": 7, "fillColor": "rgba(255,255,255,0.85)", "strokeColor": "#cccccc", "cornerRadius": 3, "labelExpr": "datum.label == 'Individual agents' ? ['Individual', 'agents'] : datum.label", "encode": {"labels": {"lineHeight": {"value": 16}}}}
            }
          }
        }
      ],
      "resolve": {"scale": {"shape": "independent", "stroke": "independent", "fill": "independent"}, "legend": {"shape": "independent", "stroke": "independent", "fill": "independent"}}
    }
  ]
}
